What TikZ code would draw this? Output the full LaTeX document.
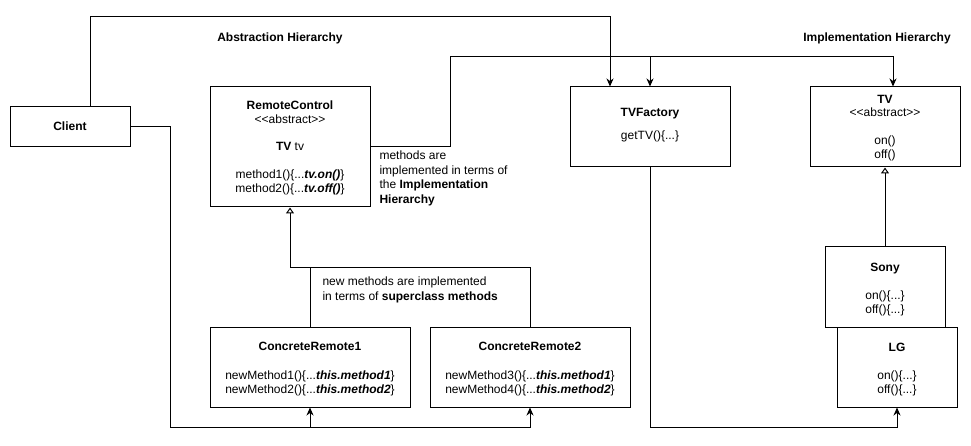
\documentclass[tikz,border=0pt]{standalone}
\usepackage{fontspec}
\setmainfont{Liberation Sans}
\usetikzlibrary{arrows.meta}
\newcommand{\abst}{<\kern0pt<abstract>\kern0pt>}
\newcommand{\bi}[1]{\textbf{\textit{#1}}}
\begin{document}
\begin{tikzpicture}[x=1pt,y=-1pt,line width=1pt,
  every node/.style={font=\fontsize{12pt}{14.4pt}\selectfont},
  box/.style={draw,fill=white,inner sep=0pt,line width=1pt},
  tl/.style={anchor=base,inner sep=0pt},
  tll/.style={anchor=base west,inner sep=0pt},
  arr/.style={-{Stealth[length=8pt,width=7pt,inset=2.5pt]}},
  inh/.style={-{Triangle[open,length=6pt,width=8pt,fill=white]}}]
\fill[white] (0,0) rectangle (971,446);
\useasboundingbox (0,0) rectangle (971,446);

% boxes
\node[box,minimum width=120pt,minimum height=40pt] (cl) at (70,127) {};
\node[box,minimum width=160pt,minimum height=120pt] (rc) at (290,147) {};
\node[box,minimum width=160pt,minimum height=80pt] (tvf) at (650,127) {};
\node[box,minimum width=150pt,minimum height=80pt] (tv) at (885,127) {};
\node[box,minimum width=120pt,minimum height=80pt] (sony) at (885,287) {};
\node[box,minimum width=120pt,minimum height=80pt] (lg) at (897,367) {};
\node[box,minimum width=200pt,minimum height=80pt] (cr1) at (310,367) {};
\node[box,minimum width=200pt,minimum height=80pt] (cr2) at (530,367) {};

% connectors
\coordinate (top1) at (610,17);
\draw[arr] ([xshift=20pt]cl.north) |- (top1) -- ([xshift=-40pt]tvf.north);
\coordinate (j1) at (450,57);
\draw[arr] (rc.east) -| (j1) -| ([xshift=8pt]tv.north);
\draw[arr] (tvf.north |- j1) -- (tvf.north);
\coordinate (b1) at (170,427);
\draw[arr] (cl.east) -| (b1) -| (cr1.south);
\draw[arr] (b1) -| (cr2.south);
\draw[arr] (tvf.south) |- ([yshift=-20pt]lg.south) -- (lg.south);
\coordinate (h1) at (290,267);
\draw[inh] (cr1.north) |- (h1) -- (rc.south);
\draw (cr2.north) |- (h1);
\draw[inh] (sony.north) -- (tv.south);

% texts
\node[tl] (clt) at (70,131) {\textbf{Client}};
\node[tl] (ah) at (280,41.5) {\textbf{Abstraction Hierarchy}};
\node[tl] (ih) at (877,41.5) {\textbf{Implementation Hierarchy}};

\node[tl] (rc1) at (290,110) {\textbf{RemoteControl}};
\node[tl] (rc2) at (290,124) {\abst};
\node[tl] (rc3) at (290,151) {\textbf{TV} tv};
\node[tl] (rc4) at (290,178.5) {method1()\{...\bi{tv.on()}\}};
\node[tl] (rc5) at (290,192.5) {method2()\{...\bi{tv.off()}\}};

\node[tl] (tf1) at (650,117) {\textbf{TVFactory}};
\node[tl] (tf2) at (650,139.5) {getTV()\{...\}};

\node[tl] (tv1) at (885,103.5) {\textbf{TV}};
\node[tl] (tv2) at (885,117) {\abst};
\node[tl] (tv3) at (885,145) {on()};
\node[tl] (tv4) at (885,158.5) {off()};

\node[tl] (so1) at (885,271) {\textbf{Sony}};
\node[tl] (so2) at (885,299.5) {on()\{...\}};
\node[tl] (so3) at (885,313) {off()\{...\}};

\node[tl] (lg1) at (897,351.5) {\textbf{LG}};
\node[tl] (lg2) at (897,379) {on()\{...\}};
\node[tl] (lg3) at (897,393) {off()\{...\}};

\node[tl] (ca1) at (310,350.5) {\textbf{ConcreteRemote1}};
\node[tl] (ca2) at (310,379) {newMethod1()\{...\bi{this.method1}\}};
\node[tl] (ca3) at (310,393) {newMethod2()\{...\bi{this.method2}\}};

\node[tl] (cb1) at (530,350.5) {\textbf{ConcreteRemote2}};
\node[tl] (cb2) at (530,379) {newMethod3()\{...\bi{this.method1}\}};
\node[tl] (cb3) at (530,393) {newMethod4()\{...\bi{this.method2}\}};

\node[tll] (la1) at (379,160) {methods are};
\node[tll] (la2) at (379,174.7) {implemented in terms of};
\node[tll] (la3) at (379,189) {the \textbf{Implementation}};
\node[tll] (la4) at (379,203.3) {\textbf{Hierarchy}};

\node[tll] (lb1) at (322,285.5) {new methods are implemented};
\node[tll] (lb2) at (322,300) {in terms of \textbf{superclass methods}};
\end{tikzpicture}
\end{document}
